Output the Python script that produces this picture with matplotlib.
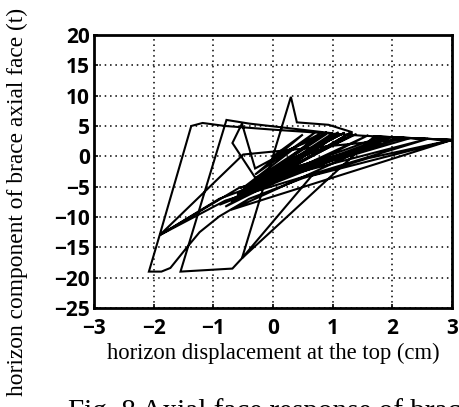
import matplotlib.pyplot as plt
import numpy as np

# hysteresis path (displacement cm, force t)
disp_cm = [0.0, 0.5, -0.3, 0.7, -0.45, 0.9, -0.6, 1.1, -0.7, 1.3, -0.8,
           1.6, -0.9, 2.0, -0.7, 3.0,
           1.5, 0.0, -0.8, -1.18, -1.37, -1.9, -2.08, -1.87, -1.72,
           -1.45, -1.23, -0.9, -0.4, 0.5, 1.6, 3.0,
           1.8, -0.55, 2.3, -0.5, -1.9, -0.57, 2.6, -0.8, -1.9, -0.9, 1.9,
           -0.6, 1.0, -0.4, -0.78, -1.55, -0.68, -0.52, 0.65, 3.0,
           1.7, -0.52, 0.3, 0.4, 0.93, 1.32, 1.32, -0.2, 1.1, -0.45, 0.8,
           -0.3, -0.52, -0.68, -0.3, 2.2, -0.2, 1.4, -0.1, 1.2, 0.1, 0.9, 0.0]
force_t = [0.0, 3.6, -3.0, 3.9, -4.8, 4.0, -6.2, 4.0, -7.5, 3.9, -8.3,
           3.5, -8.0, 3.3, -8.8, 2.7,
           3.4, 4.4, 5.0, 5.5, 5.0, -13.0, -19.0, -19.0, -18.4,
           -15.1, -12.5, -9.9, -7.0, -3.6, -0.3, 2.7,
           3.2, -5.2, 3.0, 0.3, -13.0, -5.2, 2.9, -7.3, -13.0, -7.0, 3.2,
           -6.5, 3.8, 5.4, 6.0, -19.0, -18.5, -16.8, -3.2, 2.7,
           3.3, -16.8, 9.8, 5.6, 5.2, 4.0, 3.5, -4.5, 3.6, -6.0, 3.8,
           -2.0, 5.4, 2.2, -3.5, 3.1, -4.0, 3.7, -2.5, 3.9, -1.5, 3.7, 0.0]

xticks = [-3, -2, -1, 0, 1, 2, 3]
yticks = [-25, -20, -15, -10, -5, 0, 5, 10, 15, 20]

fig = plt.figure(figsize=(4.59, 4.07), dpi=100)
ax = fig.add_axes([94 / 459, 99 / 407, 358 / 459, 273 / 407])

ax.plot(disp_cm, force_t, color='black', lw=1.5, solid_joinstyle='miter')

ax.set_xlim(-3, 3)
ax.set_ylim(-25, 20)
ax.set_xticks(xticks)
ax.set_yticks(yticks)
ax.set_xticklabels(['\u2212%d' % -t if t < 0 else str(t) for t in xticks])
ax.set_yticklabels(['\u2212%d' % -t if t < 0 else str(t) for t in yticks])
for lab in ax.get_xticklabels() + ax.get_yticklabels():
    lab.set_family(['Open Sans', 'DejaVu Sans'])
    lab.set_fontweight('bold')
    lab.set_fontsize(15)
ax.tick_params(direction='in', length=3, width=1.2)
ax.tick_params(axis='x', pad=7)
ax.tick_params(axis='y', pad=3)
ax.grid(True, color='black', linestyle=(0, (1, 2.5)), linewidth=1.1)
for s in ax.spines.values():
    s.set_linewidth(2.0)

ax.set_xlabel('horizon displacement at the top (cm)', family='Liberation Serif',
              fontsize=16.3, labelpad=3)
fig.text(17 / 459, 1 - 202 / 407, 'horizon component of brace axial face (t)',
         family='Liberation Serif', fontsize=16.8, rotation=90,
         ha='center', va='center')
fig.text(68 / 459, -12 / 407, 'Fig. 8 Axial face response of brace',
         family='Liberation Serif', fontsize=21, ha='left', va='baseline')

fig.savefig('out.png', dpi=100)
